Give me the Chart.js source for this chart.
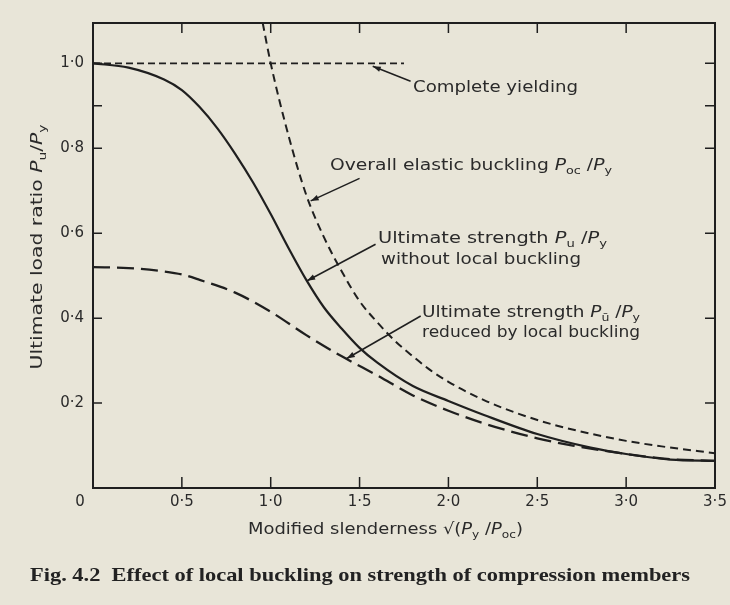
<!DOCTYPE html>
<html><head><meta charset="utf-8">
<script src="https://cdn.jsdelivr.net/npm/chart.js@4.4.1/dist/chart.umd.min.js"></script>
<style>html,body{margin:0;padding:0;background:#e8e5d8;}canvas{display:block;}</style>
</head><body>
<canvas id="c" width="730" height="605"></canvas>
<script>
// ---- data ----
const yieldX = [0, 1.75];
const yieldY = [1.0, 1.0];
const elasticX = [0.955, 1.0, 1.1, 1.2, 1.3, 1.4, 1.5, 1.6, 1.7, 1.8, 1.9, 2.0, 2.2, 2.4, 2.6, 2.8, 3.0, 3.2, 3.5];
const elasticY = [1.095, 1.0, 0.83, 0.69, 0.59, 0.51, 0.44, 0.39, 0.346, 0.31, 0.277, 0.25, 0.207, 0.174, 0.148, 0.128, 0.111, 0.098, 0.082];
const ultX = [0, 0.2, 0.4, 0.5, 0.6, 0.7, 0.8, 0.9, 1.0, 1.1, 1.2, 1.3, 1.4, 1.5, 1.6, 1.8, 2.0, 2.2, 2.5, 2.8, 3.0, 3.25, 3.5];
const ultY = [1.0, 0.99, 0.962, 0.937, 0.897, 0.847, 0.787, 0.72, 0.645, 0.565, 0.49, 0.425, 0.375, 0.33, 0.295, 0.24, 0.205, 0.172, 0.127, 0.095, 0.08, 0.067, 0.064];
const localX = [0, 0.2, 0.4, 0.5, 0.6, 0.8, 1.0, 1.2, 1.4, 1.6, 1.8, 2.0, 2.2, 2.5, 2.7, 3.0, 3.25, 3.5];
const localY = [0.52, 0.518, 0.51, 0.503, 0.49, 0.46, 0.415, 0.36, 0.31, 0.265, 0.218, 0.182, 0.152, 0.117, 0.10, 0.08, 0.068, 0.064];

const xTicks = [0, 0.5, 1.0, 1.5, 2.0, 2.5, 3.0, 3.5];
const xTickLabels = ['', '0·5', '1·0', '1·5', '2·0', '2·5', '3·0', '3·5'];
const yTicks = [0, 0.2, 0.4, 0.6, 0.8, 1.0];
const yTickLabels = ['', '0·2', '0·4', '0·6', '0·8', '1·0'];
const xMarks = [0.5, 1.0, 1.5, 2.0, 2.5, 3.0];
const yMarks = [0.2, 0.4, 0.6, 0.8, 0.9, 1.0];
const originLabel = '0';

// annotation texts (segments: n = normal, i = italic, s = subscript)
const annYield = [[['Complete yielding','n']]];
const annElastic = [[['Overall elastic buckling ','n'],['P','i'],['oc','s'],[' /','n'],['P','i'],['y','s']]];
const annUlt = [[['Ultimate strength ','n'],['P','i'],['u','s'],[' /','n'],['P','i'],['y','s']],[['without local buckling','n']]];
const annLocal = [[['Ultimate strength ','n'],['P','i'],['ū','s'],[' /','n'],['P','i'],['y','s']],[['reduced by local buckling','n']]];
const yTitle = [['Ultimate load ratio ','n'],['P','i'],['u','s'],['/','n'],['P','i'],['y','s']];
const xTitle = [['Modified slenderness ','n'],['√','n'],['(','n'],['P','i'],['y','s'],[' /','n'],['P','i'],['oc','s'],[')','n']];
const caption = 'Fig. 4.2  Effect of local buckling on strength of compression members';

const INK = '#1f1f1f';
const TXT = '#2a2a2a';
const PAPER = '#e8e5d8';
const SANS = '"DejaVu Sans", sans-serif';

function pts(xs, ys){ return xs.map((x,i)=>({x:x, y:ys[i]})); }

function segFont(kind, size){
  if (kind === 's') return (size*0.68).toFixed(1)+'px '+SANS;
  if (kind === 'i') return 'italic '+size+'px '+SANS;
  return size+'px '+SANS;
}
function measureSegs(ctx, segs, size){
  let w = 0;
  for (const [t,k] of segs){ ctx.font = segFont(k,size); w += ctx.measureText(t).width; }
  return w;
}
function drawSegs(ctx, segs, size){
  let x = 0;
  ctx.textBaseline = 'middle';
  ctx.textAlign = 'left';
  for (const [t,k] of segs){
    ctx.font = segFont(k,size);
    ctx.fillText(t, x, k === 's' ? size*0.32 : 0);
    x += ctx.measureText(t).width;
  }
}
// draw rich text with left edge at x, centered vertically at y, stretched to width w
function richText(ctx, segs, x, y, size, w){
  const m = measureSegs(ctx, segs, size);
  const sx = w ? Math.max(0.8, Math.min(1.4, w/m)) : 1;
  ctx.save(); ctx.translate(x,y); ctx.scale(sx,1); drawSegs(ctx, segs, size); ctx.restore();
}
function leader(ctx, xs, ys, x0, y0, x1, y1){
  const ax = xs.getPixelForValue(x0), ay = ys.getPixelForValue(y0);
  const bx = xs.getPixelForValue(x1), by = ys.getPixelForValue(y1);
  ctx.save();
  ctx.strokeStyle = INK; ctx.fillStyle = INK; ctx.lineWidth = 1.5;
  ctx.beginPath(); ctx.moveTo(ax,ay); ctx.lineTo(bx,by); ctx.stroke();
  const ang = Math.atan2(by-ay, bx-ax), L = 8, W = 2.8;
  ctx.beginPath();
  ctx.moveTo(bx,by);
  ctx.lineTo(bx - L*Math.cos(ang) + W*Math.sin(ang), by - L*Math.sin(ang) - W*Math.cos(ang));
  ctx.lineTo(bx - L*Math.cos(ang) - W*Math.sin(ang), by - L*Math.sin(ang) + W*Math.cos(ang));
  ctx.closePath(); ctx.fill();
  ctx.restore();
}

const paper = {
  id:'paper',
  beforeDraw(chart){
    const c = chart.ctx; c.save(); c.fillStyle = PAPER; c.fillRect(0,0,chart.width,chart.height); c.restore();
  }
};

const decor = {
  id:'decor',
  afterDraw(chart){
    const c = chart.ctx, a = chart.chartArea, xs = chart.scales.x, ys = chart.scales.y;
    c.save();
    // frame
    c.strokeStyle = INK; c.lineWidth = 2;
    c.strokeRect(a.left, a.top, a.right-a.left, a.bottom-a.top);
    // inward tick marks
    c.lineWidth = 1.5;
    c.beginPath();
    for (const v of xMarks){
      const px = xs.getPixelForValue(v);
      c.moveTo(px, a.bottom); c.lineTo(px, a.bottom-11);
      c.moveTo(px, a.top); c.lineTo(px, a.top+10);
    }
    for (const v of yMarks){
      const py = ys.getPixelForValue(v);
      c.moveTo(a.left, py); c.lineTo(a.left+9, py);
      c.moveTo(a.right, py); c.lineTo(a.right-10, py);
    }
    c.stroke();
    // origin label
    c.fillStyle = TXT; c.font = '15px '+SANS; c.textAlign='center'; c.textBaseline='middle';
    c.fillText(originLabel, xs.getPixelForValue(0)-13, ys.getPixelForValue(0)+14);

    // leaders (data coordinates)
    leader(c, xs, ys, 1.787, 0.958, 1.574, 0.993);
    leader(c, xs, ys, 1.50, 0.729, 1.225, 0.676);
    leader(c, xs, ys, 1.59, 0.574, 1.205, 0.488);
    leader(c, xs, ys, 1.844, 0.405, 1.428, 0.305);

    c.fillStyle = TXT;
    richText(c, annYield[0], 413, 88, 16, 165);
    richText(c, annElastic[0], 330, 166, 16, 282);
    richText(c, annUlt[0], 378, 239, 16, 229);
    richText(c, annUlt[1], 381, 260, 16, 200);
    richText(c, annLocal[0], 422, 313, 16, 218);
    richText(c, annLocal[1], 422, 333, 16, 218);

    // x title
    richText(c, xTitle, 248, 530, 16, 275);
    // y title (rotated)
    c.save();
    c.translate(38, 247); c.rotate(-Math.PI/2);
    const wY = measureSegs(c, yTitle, 16), sY = 245/wY;
    c.scale(sY,1); c.translate(-wY/2, 0); drawSegs(c, yTitle, 16);
    c.restore();
    // caption
    c.save();
    c.font = 'bold 19px "Liberation Serif", serif';
    c.fillStyle = '#222'; c.textBaseline='middle'; c.textAlign='left';
    const wc = c.measureText(caption).width, sc = Math.max(0.8, Math.min(1.4, 660/wc));
    c.translate(30, 576); c.scale(sc,1); c.fillText(caption, 0, 0);
    c.restore();
    c.restore();
  }
};

const tickFont = {family: SANS, size: 15};
new Chart(document.getElementById('c'), {
  type: 'line',
  data: { datasets: [
    {data: pts(yieldX, yieldY), borderDash:[7,4], borderWidth:1.6},
    {data: pts(elasticX, elasticY), borderDash:[8,5], borderWidth:2},
    {data: pts(ultX, ultY), borderWidth:2.2},
    {data: pts(localX, localY), borderDash:[17,7], borderWidth:2.3}
  ]},
  options: {
    responsive:false, animation:false, devicePixelRatio:1,
    layout:{padding:{top:23, right:15, left:0, bottom:0}},
    plugins:{legend:{display:false}, tooltip:{enabled:false}},
    elements:{
      point:{radius:0},
      line:{borderColor:INK, cubicInterpolationMode:'monotone', fill:false, borderCapStyle:'butt'}
    },
    scales:{
      x:{type:'linear', min:0, max:3.5,
        afterBuildTicks:s=>{ s.ticks = xTicks.map(v=>({value:v})); },
        afterFit:s=>{ s.height = 117; s.paddingLeft = 0; s.paddingRight = 0; },
        grid:{display:false, drawTicks:false}, border:{display:false},
        ticks:{padding:5, autoSkip:false, maxRotation:0, color:TXT, font:tickFont,
          callback:v=>xTickLabels[xTicks.indexOf(v)]}
      },
      y:{type:'linear', min:0, max:1.095,
        afterBuildTicks:s=>{ s.ticks = yTicks.map(v=>({value:v})); },
        afterFit:s=>{ s.width = 93; s.paddingTop = 0; s.paddingBottom = 0; },
        grid:{display:false, drawTicks:false}, border:{display:false},
        ticks:{padding:9, color:TXT, font:tickFont,
          callback:v=>yTickLabels[yTicks.indexOf(v)]}
      }
    }
  },
  plugins:[paper, decor]
});
</script>
</body></html>
